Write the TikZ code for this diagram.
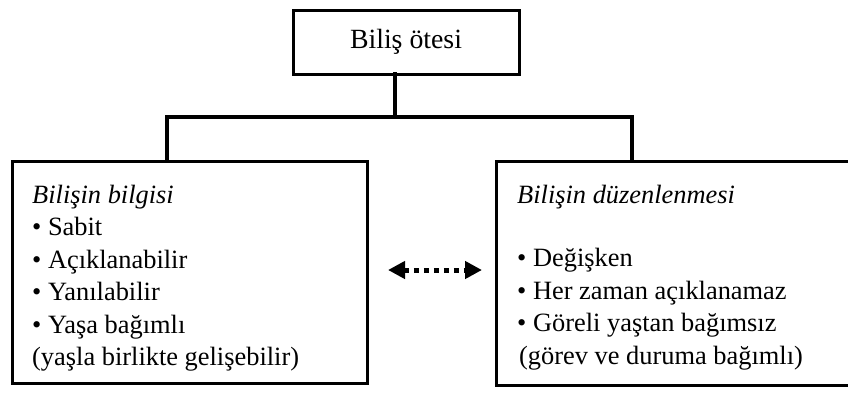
\documentclass[tikz,border=0pt]{standalone}
\usepackage{fontspec}
\setmainfont{Liberation Serif}
\usetikzlibrary{arrows.meta}
\begin{document}
\begin{tikzpicture}[x=1pt,y=-1pt,
  boxline/.style={draw=black,line width=3pt,inner sep=0pt,outer sep=0pt},
  link/.style={line width=3.5pt,line cap=rect},
  bodytext/.style={inner sep=0pt,anchor=north west,align=left,
    font=\fontsize{26.4}{32.4}\selectfont},
  dotarrow/.style={line width=5pt,dash pattern=on 5pt off 5pt,
    {Triangle[length=17pt,width=17pt]}-{Triangle[length=17pt,width=17pt]}}]
\useasboundingbox (0,0) rectangle (848,392);
\clip (0,0) rectangle (848,392);

% the three boxes
\node[boxline,minimum width=226pt,minimum height=64pt,anchor=north west,
      font=\fontsize{27.8}{32}\selectfont] (top) at (293,10) {Biliş ötesi};
\node[boxline,minimum width=355pt,minimum height=222pt,anchor=north west] (know) at (12,161) {};
\node[boxline,minimum width=360pt,minimum height=224pt,anchor=north west] (reg) at (496,161) {};

% tree connectors
\coordinate (stem) at (395,117);
\coordinate (jl) at (167,117);
\coordinate (jr) at (632,117);
\draw[link] (stem |- top.south) -- (stem);
\draw[link] (jl) -- (jr);
\draw[link] (jl) -- (jl |- know.north);
\draw[link] (jr) -- (jr |- reg.north);

% box contents
\node[bodytext] (knowtext) at (32,185) {\textit{Bilişin bilgisi}\\
• Sabit\\
• Açıklanabilir\\
• Yanılabilir\\
• Yaşa bağımlı\\
(yaşla birlikte gelişebilir)};
\node[bodytext] (regtext) at (517,185) {\textit{Bilişin düzenlenmesi}\\[31pt]
• Değişken\\
• Her zaman açıklanamaz\\
• Göreli yaştan bağımsız\\
\hspace*{2pt}(görev ve duruma bağımlı)};

% two-way dotted arrow between the boxes
\coordinate (al) at (388,270);
\coordinate (ar) at (482,270);
\draw[dotarrow] (al) -- (ar);
\end{tikzpicture}
\end{document}
